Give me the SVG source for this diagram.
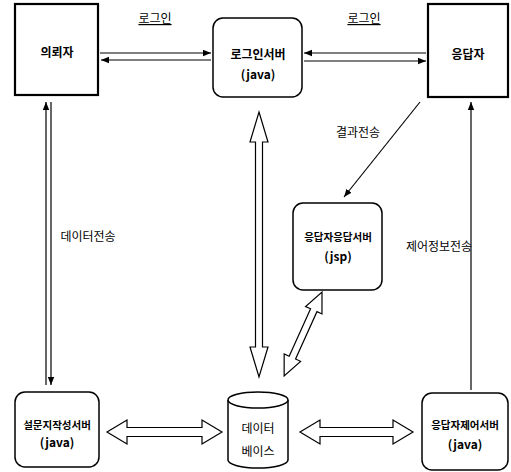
<svg xmlns="http://www.w3.org/2000/svg" width="511" height="472" viewBox="0 0 511 472">
<style>
text{font-family:"Noto Sans CJK KR","DejaVu Sans",sans-serif;font-size:12px;fill:#000;text-anchor:middle}
.nl{font-weight:bold}
.sm{font-size:10.5px}
.sq{fill:#fff;stroke:#000;stroke-width:2.2}
.rb{fill:#fff;stroke:#000;stroke-width:1.5}
.ln{fill:none;stroke:#000;stroke-width:1.2}
.ha{fill:#fff;stroke:#000;stroke-width:1.2;stroke-linejoin:miter}
</style>
<defs>
<marker id="ah" viewBox="0 0 10 10" refX="10" refY="5" markerWidth="8" markerHeight="8" markerUnits="userSpaceOnUse" orient="auto">
<path d="M0,1 L10,5 L0,9 z" fill="#000"/>
</marker>
</defs>
<g id="connectors">
<line class="ln" x1="100" y1="53" x2="211" y2="53" marker-end="url(#ah)"/>
<line class="ln" x1="211" y1="60" x2="101" y2="60" marker-end="url(#ah)"/>
<line class="ln" x1="426" y1="53" x2="304" y2="53" marker-end="url(#ah)"/>
<line class="ln" x1="304" y1="61" x2="426" y2="61" marker-end="url(#ah)"/>
<line class="ln" x1="46" y1="385" x2="46" y2="102" marker-end="url(#ah)"/>
<line class="ln" x1="51" y1="102" x2="51" y2="385" marker-end="url(#ah)"/>
<line class="ln" x1="420" y1="102" x2="344" y2="197" marker-end="url(#ah)"/>
<line class="ln" x1="471" y1="390" x2="471" y2="102" marker-end="url(#ah)"/>
<polygon class="ha" transform="translate(259,112) rotate(90)" points="0,0 30,-9 30,-3.5 235,-3.5 235,-9 265,0 235,9 235,3.5 30,3.5 30,9"/>
<polygon class="ha" transform="translate(322,292) rotate(114.3)" points="0,0 20,-9 20,-3.5 72,-3.5 72,-9 92,0 72,9 72,3.5 20,3.5 20,9"/>
<polygon class="ha" transform="translate(107,432)" points="0,0 20,-12 20,-4.5 95,-4.5 95,-12 115,0 95,12 95,4.5 20,4.5 20,12"/>
<polygon class="ha" transform="translate(300,432)" points="0,0 20,-12 20,-4.5 93,-4.5 93,-12 113,0 93,12 93,4.5 20,4.5 20,12"/>
<text x="155" y="23" style="text-decoration:underline">로그인</text>
<text x="364" y="23" style="text-decoration:underline">로그인</text>
<text x="358" y="137">결과전송</text>
<text x="439" y="251">제어정보전송</text>
<text x="88" y="241">데이터전송</text>
</g>
<g id="client">
<rect class="sq" x="15" y="4" width="83" height="91"/>
<text class="nl" x="57" y="57">의뢰자</text>
</g>
<g id="login-server">
<rect class="rb" x="213" y="18" width="89" height="79" rx="10"/>
<text class="nl" x="258" y="59">로그인서버</text>
<text class="nl" x="258" y="79">(java)</text>
</g>
<g id="respondent">
<rect class="sq" x="428" y="4" width="80" height="93"/>
<text class="nl" x="468" y="59">응답자</text>
</g>
<g id="response-server">
<rect class="rb" x="293" y="203" width="89" height="87" rx="10"/>
<text class="nl sm" x="338" y="241">응답자응답서버</text>
<text class="nl" x="338" y="261">(jsp)</text>
</g>
<g id="survey-server">
<rect class="rb" x="15" y="392" width="84" height="75" rx="10"/>
<text class="nl sm" x="57" y="429">설문지작성서버</text>
<text class="nl" x="57" y="447">(java)</text>
</g>
<g id="database">
<path class="rb" d="M228,400 A30,8 0 0 1 288,400 L288,460 A30,8 0 0 1 228,460 Z"/>
<path class="rb" fill="none" d="M228,400 A30,8 0 0 0 288,400"/>
<text x="258" y="433">데이터</text>
<text x="258" y="456">베이스</text>
</g>
<g id="control-server">
<rect class="rb" x="422" y="393" width="86" height="77" rx="10"/>
<text class="nl sm" x="465" y="429">응답자제어서버</text>
<text class="nl" x="465" y="449">(java)</text>
</g>
</svg>
